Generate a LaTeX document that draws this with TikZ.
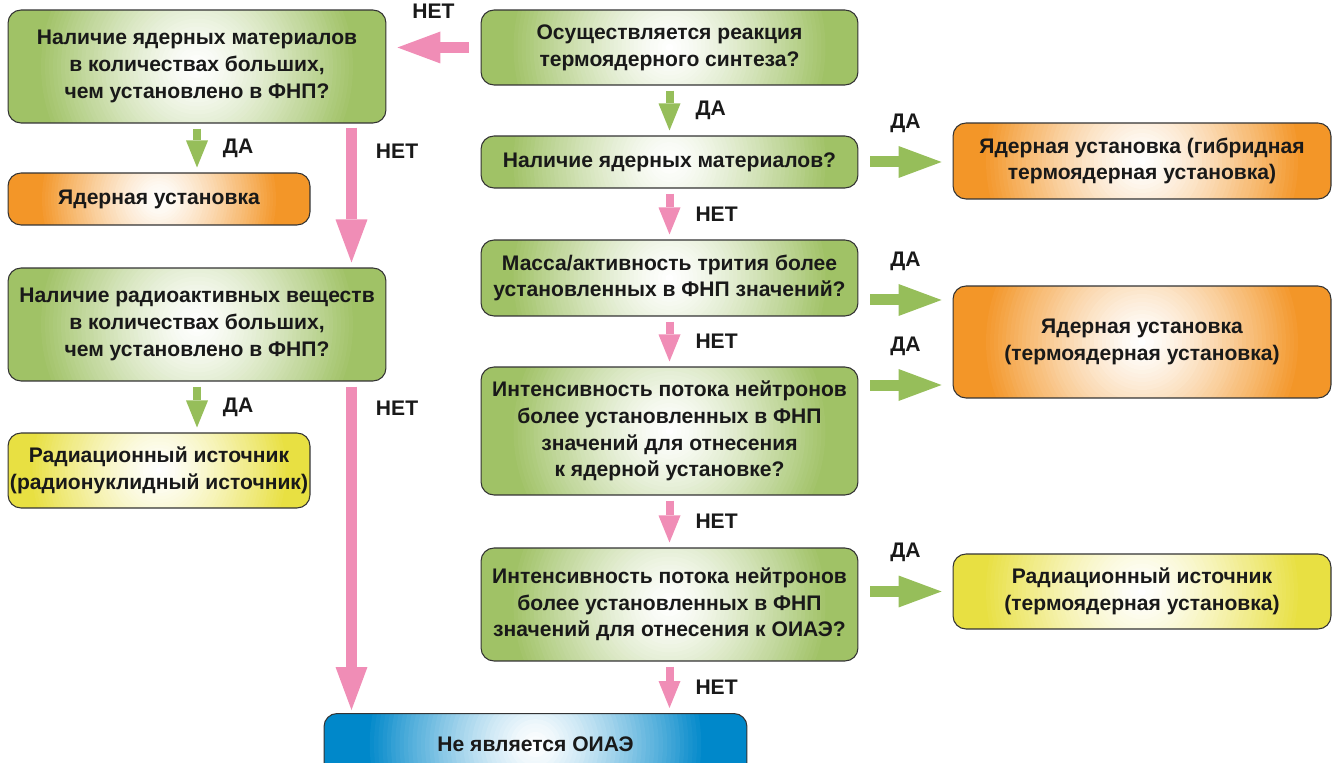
\documentclass[tikz,border=0pt]{standalone}
\usepackage{fontspec}
\setmainfont{Liberation Sans}
\usetikzlibrary{arrows.meta}

\definecolor{boxgreen}{RGB}{160,194,102}
\definecolor{boxorange}{RGB}{243,150,40}
\definecolor{boxyellow}{RGB}{232,224,66}
\definecolor{boxblue}{RGB}{0,136,202}
\definecolor{arrgreen}{RGB}{150,190,90}
\definecolor{arrpink}{RGB}{240,141,182}

\tikzset{
  box/.style={draw=black!80, line width=0.6pt, rounded corners=0.26cm, align=center,
    font=\fontsize{12}{15.2}\selectfont\bfseries, text=black!90, inner sep=0pt},
  % белое пятно в центре блока: круги от цвета к белому
  glow/.style n args={2}{fill=box#1, path picture={
    \foreach \k in {0,...,39} {
      \pgfmathtruncatemacro\pct{100*((40-\k)/40)^1.3}
      \fill[box#1!\pct!white] (path picture bounding box.center) circle ({#2*(40-\k)/40});
    }}},
  question/.style={box, glow={green}{#1}}, question/.default=3.2cm,
  yadbox/.style={box, glow={orange}{#1}}, yadbox/.default=3.2cm,
  radbox/.style={box, glow={yellow}{#1}}, radbox/.default=3.2cm,
  endbox/.style={box, glow={blue}{#1}}, endbox/.default=3.4cm,
  lbl/.style={font=\fontsize{12}{15.2}\selectfont\bfseries, text=black!90, inner sep=0pt},
  smallyes/.style={draw=arrgreen, line width=0.16cm, shorten <=0.1cm, shorten >=0.1cm,
    -{Triangle[width=0.44cm, length=0.54cm, line width=0pt]}},
  smallno/.style={smallyes, draw=arrpink},
  bigyes/.style={draw=arrgreen, line width=0.22cm, shorten <=0.24cm, shorten >=0.22cm,
    -{Triangle[width=0.64cm, length=0.86cm, line width=0pt]}},
  bigno/.style={bigyes, draw=arrpink}
}

\begin{document}
\begin{tikzpicture}[x=0.02cm, y=-0.02cm]
    \useasboundingbox (0,0) rectangle (1332,763);

    % Вопросы
    \node[question, minimum width=7.54cm, minimum height=1.5cm] (sintez) at (669.5,47.5)
        {Осуществляется реакция\\термоядерного синтеза?};
    \node[question, minimum width=7.54cm, minimum height=1.04cm] (yadmat) at (669.5,162)
        {Наличие ядерных материалов?};
    \node[question, minimum width=7.54cm, minimum height=1.52cm] (tritiy) at (669.5,278)
        {Масса/активность трития более\\установленных в ФНП значений?};
    \node[question, minimum width=7.54cm, minimum height=2.56cm] (potok1) at (669.5,431)
        {Интенсивность потока нейтронов\\более установленных в ФНП\\значений для отнесения\\к ядерной установке?};
    \node[question, minimum width=7.54cm, minimum height=2.26cm] (potok2) at (669.5,604.5)
        {Интенсивность потока нейтронов\\более установленных в ФНП\\значений для отнесения к ОИАЭ?};
    \node[question, minimum width=7.56cm, minimum height=2.26cm] (yadkol) at (197,66.5)
        {Наличие ядерных материалов\\в количествах больших,\\чем установлено в ФНП?};
    \node[question, minimum width=7.56cm, minimum height=2.26cm] (radkol) at (197,324.5)
        {Наличие радиоактивных веществ\\в количествах больших,\\чем установлено в ФНП?};

    % Ответы
    \node[yadbox=2.4cm, minimum width=6.04cm, minimum height=1.04cm] (yadust) at (159,199)
        {Ядерная установка};
    \node[yadbox, minimum width=7.56cm, minimum height=1.52cm] (gibrid) at (1142,161)
        {Ядерная установка (гибридная\\термоядерная установка)};
    \node[yadbox, minimum width=7.56cm, minimum height=2.24cm] (termo) at (1142,342)
        {Ядерная установка\\(термоядерная установка)};
    \node[radbox=2.6cm, minimum width=6.04cm, minimum height=1.5cm] (radist) at (159,470.5)
        {Радиационный источник\\(радионуклидный источник)};
    \node[radbox, minimum width=7.56cm, minimum height=1.5cm] (radtermo) at (1142,591.5)
        {Радиационный источник\\(термоядерная установка)};
    \node[endbox, minimum width=8.46cm, minimum height=1.24cm, anchor=north] (neoiae) at (535.5,713)
        {Не является ОИАЭ};

    % Стрелки средней колонки
    \draw[bigno] (sintez.west) -- (sintez.west -| yadkol.east)
        node[midway, above=0.48cm, lbl] {НЕТ};
    \draw[smallyes] (sintez.south) -- (yadmat.north)
        node[midway, right=0.44cm, lbl] {ДА};
    \draw[smallno] (yadmat.south) -- (tritiy.north)
        node[midway, right=0.44cm, lbl] {НЕТ};
    \draw[smallno] (tritiy.south) -- (potok1.north)
        node[midway, right=0.44cm, lbl] {НЕТ};
    \draw[smallno] (potok1.south) -- (potok2.north)
        node[midway, right=0.44cm, lbl] {НЕТ};
    \draw[smallno] (potok2.south) -- (potok2.south |- neoiae.north)
        node[midway, right=0.44cm, lbl] {НЕТ};

    % Стрелки вправо
    \draw[bigyes] (yadmat.east) -- (yadmat.east -| gibrid.west)
        node[midway, above=0.48cm, lbl] {ДА};
    \draw[bigyes] ([yshift=-0.44cm]tritiy.east) -- ([yshift=-0.44cm]tritiy.east -| termo.west)
        node[midway, above=0.48cm, lbl] {ДА};
    \draw[bigyes] ([yshift=0.92cm]potok1.east) -- ([yshift=0.92cm]potok1.east -| termo.west)
        node[midway, above=0.48cm, lbl] {ДА};
    \draw[bigyes] (potok2.east |- radtermo.west) -- (radtermo.west)
        node[midway, above=0.48cm, lbl] {ДА};

    % Стрелки левой колонки
    \draw[smallyes] (yadkol.south) -- (yadkol.south |- yadust.north)
        node[midway, right=0.44cm, lbl] {ДА};
    \draw[smallyes] (radkol.south) -- (radkol.south |- radist.north)
        node[midway, right=0.44cm, lbl] {ДА};
    \draw[bigno, shorten <=0.08cm, shorten >=0.1cm] ([xshift=-0.7cm]yadkol.south east) -- ([xshift=-0.7cm]radkol.north east)
        node[pos=0.19, right=0.38cm, lbl] {НЕТ};
    \draw[bigno, shorten <=0.1cm, shorten >=0.06cm] ([xshift=-0.7cm]radkol.south east) -- ([xshift=-0.7cm]radkol.south east |- neoiae.north)
        node[pos=0.08, right=0.38cm, lbl] {НЕТ};
\end{tikzpicture}
\end{document}
